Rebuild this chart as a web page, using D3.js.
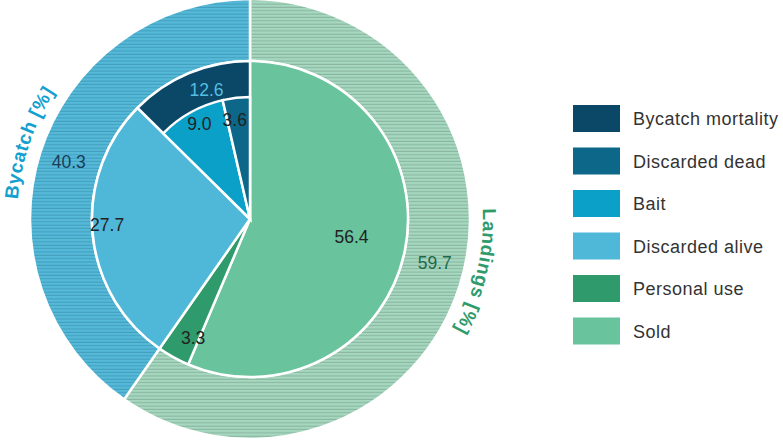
<!DOCTYPE html>
<html>
<head>
<meta charset="utf-8">
<script src="https://cdn.jsdelivr.net/npm/d3@7"></script>
<style>
  body { margin: 0; background: #fff; }
  svg { display: block; font-family: "Liberation Sans", Arial, Helvetica, sans-serif; }
</style>
</head>
<body>
<svg id="chart" width="783" height="445"></svg>
<script>
// outer ring
var groupNames = ["Landings", "Bycatch"];
var groupValues = [59.7, 40.3];
// inner pie
var sliceNames = ["Sold", "Personal use", "Discarded alive", "Bait", "Discarded dead"];
var sliceValues = [56.4, 3.3, 27.7, 9.0, 3.6];
// mortality band (bait + discarded dead)
var mortalityName = "Bycatch mortality";
var mortalityValue = 12.6;
var legendNames = ["Bycatch mortality", "Discarded dead", "Bait", "Discarded alive", "Personal use", "Sold"];

var colors = {
  "Bycatch mortality": "#0b4767",
  "Discarded dead": "#0c6789",
  "Bait": "#0aa0c8",
  "Discarded alive": "#4fb8d8",
  "Personal use": "#2f9b6c",
  "Sold": "#69c39c"
};

var svg = d3.select("#chart");
var cx = 250, cy = 219;
var rOuter = 220, rPie = 158, rSmall = 122;
var g = svg.append("g").attr("transform", "translate(" + cx + "," + cy + ")");

// hatch patterns
var defs = svg.append("defs");
function hatch(id, base, line) {
  var p = defs.append("pattern").attr("id", id)
    .attr("patternUnits", "userSpaceOnUse").attr("width", 10).attr("height", 3.35);
  p.append("rect").attr("width", 10).attr("height", 3.35).attr("fill", base);
  p.append("rect").attr("width", 10).attr("y", 2.3).attr("height", 0.9).attr("fill", line);
}
hatch("hatchGreen", "#a5d8bf", "#86ae9b");
hatch("hatchBlue", "#55bad9", "#4098b6");

var pie = d3.pie().sort(null).value(function(d) { return d; });
var outerArcs = pie(groupValues);
var innerArcs = pie(sliceValues);

var ringArc = d3.arc().innerRadius(rPie).outerRadius(rOuter);
g.selectAll(".ring").data(outerArcs).enter().append("path")
  .attr("d", ringArc)
  .attr("fill", function(d, i) { return i === 0 ? "url(#hatchGreen)" : "url(#hatchBlue)"; })
  .attr("stroke", "#fff").attr("stroke-width", 2.5);

// mortality band spans bait + discarded dead
var total = d3.sum(sliceValues);
var mStart = innerArcs[3].startAngle;
var mEnd = mStart + mortalityValue / total * 2 * Math.PI;

var pieArc = d3.arc().innerRadius(0).outerRadius(rPie);
var smallArc = d3.arc().innerRadius(0).outerRadius(rSmall);

g.selectAll(".slice").data(innerArcs).enter().append("path")
  .attr("d", function(d, i) { return i < 3 ? pieArc(d) : null; })
  .attr("fill", function(d, i) { return colors[sliceNames[i]]; })
  .attr("stroke", "#fff").attr("stroke-width", 2.5);

g.append("path")
  .attr("d", pieArc({ startAngle: mStart, endAngle: mEnd }))
  .attr("fill", colors[mortalityName])
  .attr("stroke", "#fff").attr("stroke-width", 2.5);

g.selectAll(".small").data(innerArcs.slice(3)).enter().append("path")
  .attr("d", smallArc)
  .attr("fill", function(d, i) { return colors[sliceNames[i + 3]]; })
  .attr("stroke", "#fff").attr("stroke-width", 2.5);

// value labels
function polar(angle, r) {
  return [Math.sin(angle) * r, -Math.cos(angle) * r];
}
function mid(d) { return (d.startAngle + d.endAngle) / 2; }
var fmt = d3.format(".1f");
var labelStyle = {
  "Sold": { r: 103, da: -0.03, color: "#222" },
  "Personal use": { r: 132, da: -0.06, color: "#222" },
  "Discarded alive": { r: 143, da: 0.05, color: "#222" },
  "Bait": { r: 108, da: 0.02, color: "#222" },
  "Discarded dead": { r: 100, da: -0.04, color: "#222" }
};
innerArcs.forEach(function(d, i) {
  var s = labelStyle[sliceNames[i]];
  var p = polar(mid(d) + s.da, s.r);
  g.append("text").attr("x", p[0]).attr("y", p[1]).attr("dy", "0.35em")
    .attr("text-anchor", "middle").attr("font-size", 17.5).attr("fill", s.color)
    .text(fmt(sliceValues[i]));
});
var pm = polar((mStart + mEnd) / 2 + 0.07, 136);
g.append("text").attr("x", pm[0]).attr("y", pm[1]).attr("dy", "0.35em")
  .attr("text-anchor", "middle").attr("font-size", 17.5).attr("fill", "#55bde0")
  .text(fmt(mortalityValue));

var groupLabelColor = ["#1d6a4a", "#183f5a"];
var groupTitleColor = ["#2f9b6c", "#14a0cf"];
var groupLabelR = [190, 190];
var groupLabelDa = [-0.07, 0];
outerArcs.forEach(function(d, i) {
  var p = polar(mid(d) + groupLabelDa[i], groupLabelR[i]);
  g.append("text").attr("x", p[0]).attr("y", p[1]).attr("dy", "0.35em")
    .attr("text-anchor", "middle").attr("font-size", 17.5).attr("fill", groupLabelColor[i])
    .text(fmt(groupValues[i]));
});

// curved titles (clockwise paths, letters face outward)
var rTitle = 233;
var titleCenter = [103 * Math.PI / 180, 289 * Math.PI / 180];
var titleSpan = 1.0;
outerArcs.forEach(function(d, i) {
  var a0 = titleCenter[i] - titleSpan / 2, a1 = titleCenter[i] + titleSpan / 2;
  var p0 = polar(a0, rTitle), p1 = polar(a1, rTitle);
  defs.append("path").attr("id", "tp" + i)
    .attr("d", "M" + (p0[0] + cx) + "," + (p0[1] + cy) + " A" + rTitle + "," + rTitle + " 0 0 1 " + (p1[0] + cx) + "," + (p1[1] + cy));
  svg.append("text").attr("font-size", 19).attr("font-weight", "bold").attr("fill", groupTitleColor[i])
    .attr("letter-spacing", 0.6)
    .append("textPath").attr("href", "#tp" + i).attr("startOffset", "50%").attr("text-anchor", "middle")
    .text(groupNames[i] + " [%]");
});

// legend
var legend = svg.append("g").attr("transform", "translate(573,105)");
var ly = d3.scaleBand().domain(legendNames).range([0, 255]);
var items = legend.selectAll(".item").data(legendNames).enter().append("g")
  .attr("transform", function(d) { return "translate(0," + ly(d) + ")"; });
items.append("rect").attr("width", 47).attr("height", 27).attr("fill", function(d) { return colors[d]; });
items.append("text").attr("x", 60).attr("y", 14).attr("dy", "0.35em")
  .attr("font-size", 18).attr("letter-spacing", 0.5).attr("fill", "#333").text(function(d) { return d; });
</script>
</body>
</html>
